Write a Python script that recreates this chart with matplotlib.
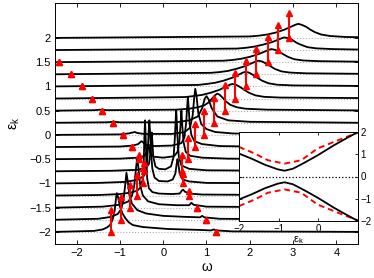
import matplotlib
matplotlib.use("Agg")
import matplotlib.pyplot as plt

plt.rcParams['font.family'] = ['Liberation Sans', 'DejaVu Sans']
plt.rcParams['mathtext.fontset'] = 'custom'
plt.rcParams['mathtext.rm'] = 'Liberation Sans'

# ---------------- data ----------------
eps_k = [-2.0, -1.75, -1.5, -1.25, -1.0, -0.75, -0.5, -0.25, 0.0,
         0.25, 0.5, 0.75, 1.0, 1.25, 1.5, 1.75, 2.0]

# spectral functions A(eps_k, omega): (omega, height above baseline)
curve_m200 = [(-2.5, 0), (-1.6, 0.02), (-1.4, 0.05), (-1.3, 0.09), (-1.23, 0.14), (-1.17, 0.25),
              (-1.12, 0.45), (-1.09, 0.7), (-1.07, 0.8), (-1.04, 0.7), (-1.0, 0.52), (-0.94, 0.38),
              (-0.88, 0.29), (-0.8, 0.2), (-0.7, 0.14), (-0.47, 0.1), (0.1, 0.06), (0.86, 0.04),
              (1.1, 0.03), (1.17, 0.05), (1.22, 0.03), (1.6, 0.01), (4.5, 0)]
curve_m175 = [(-2.5, 0), (-1.5, 0.02), (-1.2, 0.06), (-1.05, 0.12), (-0.97, 0.22), (-0.92, 0.4),
              (-0.88, 0.7), (-0.85, 0.97), (-0.82, 0.8), (-0.78, 0.5), (-0.72, 0.33), (-0.6, 0.2),
              (-0.4, 0.13), (0.0, 0.08), (0.5, 0.06), (0.85, 0.05), (0.9, 0.08), (0.95, 0.05),
              (1.3, 0.02), (4.5, 0)]
curve_m150 = [(-2.5, 0), (-1.4, 0.02), (-1.0, 0.06), (-0.8, 0.13), (-0.72, 0.25), (-0.67, 0.45),
              (-0.63, 0.8), (-0.6, 1.03), (-0.57, 0.8), (-0.53, 0.45), (-0.47, 0.25), (-0.35, 0.13),
              (-0.1, 0.07), (0.3, 0.05), (0.6, 0.05), (0.65, 0.1), (0.7, 0.06), (1.0, 0.02), (4.5, 0)]
curve_m125 = [(-2.5, 0), (-1.5, 0.01), (-1.0, 0.03), (-0.75, 0.06), (-0.6, 0.1), (-0.52, 0.17),
              (-0.47, 0.35), (-0.45, 0.7), (-0.435, 1.2), (-0.42, 1.55), (-0.405, 1.2), (-0.39, 0.7),
              (-0.37, 0.35), (-0.33, 0.15), (-0.25, 0.07), (-0.1, 0.04), (0.2, 0.03), (0.38, 0.04),
              (0.43, 0.1), (0.46, 0.12), (0.5, 0.08), (0.6, 0.04), (0.9, 0.02), (4.5, 0)]
curve_m100 = [(-2.5, 0), (-1.5, 0.01), (-0.9, 0.03), (-0.6, 0.07), (-0.45, 0.15), (-0.39, 0.3),
              (-0.36, 0.6), (-0.34, 1.0), (-0.32, 1.3), (-0.30, 1.0), (-0.28, 0.6), (-0.25, 0.3),
              (-0.2, 0.12), (-0.1, 0.05), (0.1, 0.04), (0.22, 0.08), (0.28, 0.2), (0.31, 0.4),
              (0.33, 0.5), (0.35, 0.4), (0.38, 0.2), (0.45, 0.08), (0.6, 0.04), (1.0, 0.01), (4.5, 0)]
curve_m075 = [(-2.5, 0), (-1.2, 0.01), (-0.6, 0.03), (-0.4, 0.07), (-0.33, 0.15), (-0.3, 0.35),
              (-0.28, 0.6), (-0.265, 0.8), (-0.25, 0.6), (-0.23, 0.3), (-0.18, 0.1), (-0.1, 0.05),
              (0.05, 0.04), (0.18, 0.1), (0.24, 0.3), (0.27, 0.7), (0.29, 1.1), (0.3, 1.25),
              (0.31, 1.1), (0.33, 0.7), (0.36, 0.3), (0.42, 0.12), (0.6, 0.05), (1.0, 0.02), (4.5, 0)]
curve_m050 = [(-2.5, 0), (-1.0, 0.01), (-0.6, 0.03), (-0.45, 0.06), (-0.39, 0.12), (-0.36, 0.25),
              (-0.345, 0.3), (-0.33, 0.25), (-0.3, 0.12), (-0.22, 0.05), (0.0, 0.03), (0.25, 0.06),
              (0.33, 0.15), (0.37, 0.35), (0.40, 0.7), (0.42, 1.0), (0.44, 0.7), (0.47, 0.35),
              (0.52, 0.15), (0.62, 0.07), (0.9, 0.03), (1.5, 0.01), (4.5, 0)]
curve_m025 = [(-2.5, 0), (-1.0, 0.01), (-0.7, 0.03), (-0.58, 0.06), (-0.53, 0.1), (-0.5, 0.12),
              (-0.47, 0.1), (-0.42, 0.05), (-0.2, 0.02), (0.2, 0.03), (0.42, 0.08), (0.49, 0.2),
              (0.53, 0.5), (0.555, 0.85), (0.57, 1.03), (0.585, 0.85), (0.61, 0.5), (0.65, 0.25),
              (0.72, 0.12), (0.9, 0.06), (1.3, 0.02), (2.0, 0.01), (4.5, 0)]
curve_p000 = [(-2.5, 0), (-1.0, 0.01), (-0.8, 0.03), (-0.7, 0.05), (-0.66, 0.06), (-0.6, 0.04),
              (-0.45, 0.02), (0.2, 0.02), (0.5, 0.06), (0.62, 0.15), (0.68, 0.4), (0.72, 0.8),
              (0.74, 0.95), (0.77, 0.8), (0.81, 0.45), (0.88, 0.22), (1.0, 0.12), (1.2, 0.06),
              (1.6, 0.03), (2.5, 0.01), (4.5, 0)]
curve_p025 = [(-2.5, 0), (-1.3, 0.01), (-1.15, 0.02), (-1.0, 0.01), (0.3, 0.01), (0.6, 0.05),
              (0.8, 0.13), (0.9, 0.3), (0.96, 0.5), (1.0, 0.55), (1.05, 0.48), (1.12, 0.3),
              (1.25, 0.13), (1.5, 0.05), (2.0, 0.02), (4.5, 0)]
curve_p050 = [(-2.5, 0), (-1.6, 0.01), (-1.45, 0.02), (-1.3, 0.01), (0.3, 0.02), (0.6, 0.04),
              (0.8, 0.07), (0.95, 0.11), (1.05, 0.17), (1.13, 0.25), (1.2, 0.32), (1.25, 0.35),
              (1.3, 0.33), (1.37, 0.27), (1.45, 0.19), (1.55, 0.12), (1.7, 0.07), (1.9, 0.04),
              (2.4, 0.02), (4.5, 0.005)]
curve_p075 = [(-2.5, 0), (0.5, 0.03), (0.7, 0.05), (0.9, 0.075), (1.1, 0.12), (1.3, 0.18),
              (1.45, 0.245), (1.54, 0.285), (1.6, 0.3), (1.68, 0.285), (1.78, 0.235), (1.88, 0.175),
              (1.98, 0.12), (2.13, 0.065), (2.33, 0.035), (2.7, 0.02), (4.5, 0.01)]
curve_p100 = [(-2.5, 0), (0.8, 0.03), (1.0, 0.05), (1.2, 0.075), (1.4, 0.12), (1.6, 0.18),
              (1.75, 0.245), (1.84, 0.285), (1.9, 0.3), (1.98, 0.285), (2.08, 0.235), (2.18, 0.175),
              (2.28, 0.12), (2.43, 0.065), (2.63, 0.035), (3.0, 0.02), (4.5, 0.01)]
curve_p125 = [(-2.5, 0), (1.1, 0.03), (1.3, 0.045), (1.5, 0.07), (1.7, 0.115), (1.9, 0.17),
              (2.05, 0.23), (2.14, 0.265), (2.2, 0.28), (2.28, 0.265), (2.38, 0.22), (2.48, 0.165),
              (2.58, 0.11), (2.73, 0.06), (2.93, 0.035), (3.3, 0.02), (4.5, 0.01)]
curve_p150 = [(-2.5, 0), (1.4, 0.03), (1.6, 0.045), (1.8, 0.07), (2.0, 0.11), (2.2, 0.165),
              (2.35, 0.22), (2.44, 0.255), (2.5, 0.27), (2.58, 0.255), (2.68, 0.215), (2.78, 0.16),
              (2.88, 0.11), (3.03, 0.06), (3.23, 0.035), (3.6, 0.02), (4.5, 0.01)]
curve_p175 = [(-2.5, 0), (1.7, 0.03), (1.9, 0.045), (2.1, 0.07), (2.3, 0.11), (2.5, 0.16),
              (2.65, 0.21), (2.74, 0.245), (2.8, 0.26), (2.88, 0.245), (2.98, 0.21), (3.08, 0.15),
              (3.18, 0.11), (3.33, 0.06), (3.53, 0.035), (3.9, 0.02), (4.5, 0.01)]
curve_p200 = [(-2.5, 0), (2.0, 0.03), (2.2, 0.045), (2.4, 0.07), (2.6, 0.11), (2.8, 0.17),
              (2.95, 0.23), (3.05, 0.27), (3.12, 0.29), (3.2, 0.27), (3.3, 0.23), (3.4, 0.17),
              (3.5, 0.12), (3.65, 0.07), (3.85, 0.04), (4.2, 0.02), (4.5, 0.015)]

curves = [curve_m200, curve_m175, curve_m150, curve_m125, curve_m100, curve_m075,
          curve_m050, curve_m025, curve_p000, curve_p025, curve_p050, curve_p075,
          curve_p100, curve_p125, curve_p150, curve_p175, curve_p200]

# quasiparticle markers: positions and weights (arrow lengths)
omega_up = [1.22, 0.99, 0.78, 0.6, 0.46, 0.44, 0.57, 0.74, 0.95, 1.18, 1.43, 1.66, 1.91, 2.15, 2.41, 2.66, 2.9]
weight_up = [0.0, 0.0, 0.0, 0.09, 0.2, 0.33, 0.44, 0.48, 0.5, 0.51, 0.52, 0.52, 0.52, 0.52, 0.52, 0.52, 0.52]
omega_lo = [-1.21, -0.98, -0.77, -0.6, -0.46, -0.44, -0.55, -0.72, -0.93, -1.16, -1.42, -1.65, -1.88, -2.14, -2.4, -2.66, -2.9]
weight_lo = [0.46, 0.47, 0.47, 0.43, 0.32, 0.18, 0.08, 0.0, 0.0, 0.0, 0.0, 0.0, 0.0, 0.0, 0.0, 0.0, 0.0]

# inset: dispersions
inset_eps = [-2.0, -1.68, -1.35, -1.02, -0.85, -0.64, -0.35, -0.02, 0.4, 0.73, 1.0]
inset_solid_up = [1.03, 0.80, 0.53, 0.32, 0.26, 0.35, 0.62, 0.95, 1.41, 1.74, 2.0]
inset_solid_lo = [-1.03, -0.80, -0.53, -0.32, -0.26, -0.35, -0.62, -0.95, -1.41, -1.74, -2.0]
inset_eps_d = [-2.0, -1.6, -1.27, -0.85, -0.43, -0.02, 0.4, 0.73, 1.0]
inset_dash_up = [1.33, 1.03, 0.73, 0.58, 0.73, 1.26, 1.56, 1.79, 1.97]
inset_dash_lo = [-1.33, -1.03, -0.73, -0.58, -0.73, -1.26, -1.56, -1.79, -1.97]

main_xticks = [-2, -1, 0, 1, 2, 3, 4]
main_yticks = [-2, -1.5, -1, -0.5, 0, 0.5, 1, 1.5, 2]
inset_xticks = [-2, -1, 0, 1]
inset_yticks = [-2, -1, 0, 1, 2]

# ---------------- figure ----------------
W, H = 374, 278
fig = plt.figure(figsize=(W / 100, H / 100), dpi=100)
ax = fig.add_axes([55 / W, 1 - 244 / H, (358 - 55) / W, (244 - 3) / H])

for e in eps_k:
    ax.axhline(e, color='#b0b0b0', linestyle=':', linewidth=0.8, zorder=1)

for e, cv in zip(eps_k, curves):
    xs = [p[0] for p in cv]
    ys = [e + p[1] for p in cv]
    ax.plot(xs, ys, color='black', linewidth=1.3, zorder=2)

red = '#ff0000'
for e, wu, au, wl, al in zip(eps_k, omega_up, weight_up, omega_lo, weight_lo):
    for w, a in ((wu, au), (wl, al)):
        ax.plot([w, w], [e, e + a], color=red, linewidth=1.5, zorder=3, clip_on=True)
        ax.plot([w, w], [e, e + a], linestyle='none', marker='^', markersize=5,
                color=red, markeredgecolor=red, zorder=4, clip_on=True)

ax.set_xlim(-2.5, 4.5)
ax.set_ylim(-2.25, 2.72)
ax.set_xticks(main_xticks)
ax.set_yticks(main_yticks)
ax.set_yticklabels(['\u22122', '\u22121.5', '\u22121', '\u22120.5', '0', '0.5', '1', '1.5', '2'])
ax.set_xticklabels(['\u22122', '\u22121', '0', '1', '2', '3', '4'])
ax.tick_params(direction='in', top=True, right=True, labelsize=8, length=3, width=0.6, pad=3)
for s in ax.spines.values():
    s.set_linewidth(0.7)
ax.set_xlabel('\u03c9', fontsize=10, labelpad=1)
ax.set_ylabel('\u03b5$_{\\rm k}$', fontsize=10, labelpad=5)

# ---------------- inset ----------------
ins = fig.add_axes([239 / W, 1 - 221 / H, (358 - 239) / W, (221 - 132) / H])
ins.axhline(0, color='black', linestyle=':', linewidth=0.9)
ins.plot(inset_eps_d, inset_dash_up, color=red, linestyle='--', linewidth=1.4, dashes=(3, 2))
ins.plot(inset_eps_d, inset_dash_lo, color=red, linestyle='--', linewidth=1.4, dashes=(3, 2))
ins.plot(inset_eps, inset_solid_up, color='black', linewidth=1.3)
ins.plot(inset_eps, inset_solid_lo, color='black', linewidth=1.3)
ins.set_xlim(-2, 1)
ins.set_ylim(-2, 2)
ins.set_xticks(inset_xticks)
ins.set_xticklabels(['\u22122', '\u22121', '0', ''])
ins.set_yticks(inset_yticks)
ins.set_yticklabels(['\u22122', '\u22121', '0', '1', '2'])
ins.yaxis.tick_right()
ins.tick_params(direction='in', labelsize=7, length=2.5, width=0.6, pad=2, top=True, left=True)
for s in ins.spines.values():
    s.set_linewidth(0.7)
ins.set_xlabel('\u03b5$_{\\rm k}$', fontsize=8, labelpad=0)

fig.savefig('out.png', dpi=100)
